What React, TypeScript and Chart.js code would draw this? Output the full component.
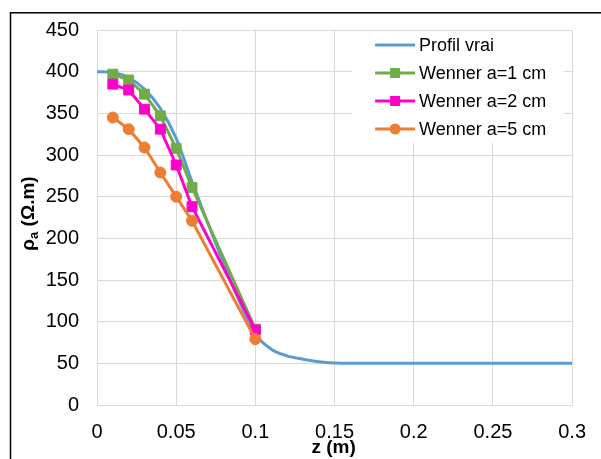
import React, { useEffect, useRef } from "react";
import { Chart, registerables } from "chart.js";

Chart.register(...registerables);

// ---- data ----
const profilZ = [0, 0.01, 0.02, 0.03, 0.04, 0.05, 0.06, 0.07, 0.08, 0.09, 0.1, 0.11, 0.12, 0.13, 0.14, 0.15, 0.16, 0.17, 0.18, 0.2, 0.22, 0.24, 0.26, 0.28, 0.3];
const profilRho = [400, 399, 393, 379, 356, 320, 268, 218, 170, 124, 85, 67, 59, 55, 52, 50.5, 50, 50, 50, 50, 50, 50, 50, 50, 50];

const wennerZ = [0.01, 0.02, 0.03, 0.04, 0.05, 0.06, 0.1];
const wenner1 = [397, 390, 373, 347, 308, 261, 91];
const wenner2 = [385, 378, 355, 331, 288, 238, 90];
const wenner5 = [345, 331, 309, 279, 250, 221, 79];

const seriesLabels = ["Profil vrai", "Wenner a=1 cm", "Wenner a=2 cm", "Wenner a=5 cm"];
const seriesColors = ["#5B9BD5", "#70AD47", "#FF00CC", "#ED7D31"];
const seriesMarkers: (string | null)[] = [null, "rect", "rect", "circle"];

const xTitle = "z (m)";
const yTitleMain = "ρ";
const yTitleSub = "a";
const yTitleRest = " (Ω.m)";

const xMin = 0, xMax = 0.3, xStep = 0.05;
const yMin = 0, yMax = 450, yStep = 50;

const FONT = "'Liberation Sans', Arial, sans-serif";

const toPts = (xs: number[], ys: number[]) => xs.map((x, i) => ({ x, y: ys[i] }));

function drawMarker(ctx: CanvasRenderingContext2D, style: string, x: number, y: number, color: string) {
  ctx.fillStyle = color;
  if (style === "rect") {
    ctx.fillRect(x - 5, y - 5, 10, 10);
  } else {
    ctx.beginPath();
    ctx.arc(x, y, 5.5, 0, Math.PI * 2);
    ctx.fill();
  }
}

const decorPlugin = {
  id: "decor",
  beforeDraw(chart: any) {
    const ctx = chart.ctx;
    ctx.save();
    ctx.fillStyle = "#ffffff";
    ctx.fillRect(0, 0, chart.width, chart.height);
    ctx.restore();
  },
  afterDraw(chart: any) {
    const ctx: CanvasRenderingContext2D = chart.ctx;
    const area = chart.chartArea;
    ctx.save();
    // outer frame
    ctx.strokeStyle = "#000000";
    ctx.lineWidth = 1.5;
    ctx.strokeRect(10.5, 12.8, chart.width + 100, chart.height + 100);

    // legend
    const boxRight = area.right - 8;
    const boxLeft = boxRight - 212;
    const boxTop = area.top + 1;
    ctx.fillStyle = "#ffffff";
    ctx.fillRect(boxLeft, boxTop, 212, 112);
    const lx = boxLeft + 23;
    ctx.font = `18px ${FONT}`;
    ctx.textBaseline = "middle";
    ctx.textAlign = "left";
    seriesLabels.forEach((lab, i) => {
      const y = boxTop + 14 + i * 28;
      ctx.strokeStyle = seriesColors[i];
      ctx.lineWidth = 3;
      ctx.beginPath();
      ctx.moveTo(lx, y);
      ctx.lineTo(lx + 40, y);
      ctx.stroke();
      const m = seriesMarkers[i];
      if (m) drawMarker(ctx, m, lx + 20, y, seriesColors[i]);
      ctx.fillStyle = "#000000";
      ctx.fillText(lab, lx + 44, y + 1);
    });

    // x title
    ctx.font = `bold 19px ${FONT}`;
    ctx.textAlign = "center";
    ctx.textBaseline = "alphabetic";
    ctx.fillStyle = "#000000";
    ctx.fillText(xTitle, (area.left + area.right) / 2 - 1, chart.height - 6);

    // y title (rotated, with subscript)
    const cy = (area.top + area.bottom) / 2 - 4;
    ctx.translate(34, cy);
    ctx.rotate(-Math.PI / 2);
    const bigFont = `bold 19px ${FONT}`;
    const smallFont = `bold 13px ${FONT}`;
    ctx.font = bigFont;
    const w1 = ctx.measureText(yTitleMain).width;
    const w3 = ctx.measureText(yTitleRest).width;
    ctx.font = smallFont;
    const w2 = ctx.measureText(yTitleSub).width;
    let x0 = -(w1 + w2 + w3) / 2;
    ctx.textAlign = "left";
    ctx.font = bigFont;
    ctx.fillText(yTitleMain, x0, 0);
    x0 += w1;
    ctx.font = smallFont;
    ctx.fillText(yTitleSub, x0, 4);
    x0 += w2;
    ctx.font = bigFont;
    ctx.fillText(yTitleRest, x0, 0);
    ctx.restore();
  },
};

export default function App() {
  const canvasRef = useRef<HTMLCanvasElement | null>(null);

  useEffect(() => {
    if (!canvasRef.current) return;
    const common = { borderWidth: 3, tension: 0, pointBorderWidth: 1 };
    const chart = new Chart(canvasRef.current, {
      type: "line",
      data: {
        datasets: [
          {
            label: seriesLabels[0],
            data: toPts(profilZ, profilRho),
            borderColor: seriesColors[0],
            backgroundColor: seriesColors[0],
            borderWidth: 3,
            pointRadius: 0,
            cubicInterpolationMode: "monotone",
            order: 3,
          },
          {
            ...common,
            label: seriesLabels[1],
            data: toPts(wennerZ, wenner1),
            borderColor: seriesColors[1],
            backgroundColor: seriesColors[1],
            pointBackgroundColor: seriesColors[1],
            pointBorderColor: seriesColors[1],
            pointStyle: "rect",
            pointRadius: 7,
            order: 2,
          },
          {
            ...common,
            label: seriesLabels[2],
            data: toPts(wennerZ, wenner2),
            borderColor: seriesColors[2],
            backgroundColor: seriesColors[2],
            pointBackgroundColor: seriesColors[2],
            pointBorderColor: seriesColors[2],
            pointStyle: "rect",
            pointRadius: 7,
            order: 1,
          },
          {
            ...common,
            label: seriesLabels[3],
            data: toPts(wennerZ, wenner5),
            borderColor: seriesColors[3],
            backgroundColor: seriesColors[3],
            pointBackgroundColor: seriesColors[3],
            pointBorderColor: seriesColors[3],
            pointStyle: "circle",
            pointRadius: 5.5,
            order: 0,
          },
        ],
      } as any,
      options: {
        animation: false,
        responsive: true,
        maintainAspectRatio: false,
        layout: { padding: { left: 0, top: 30, right: 27, bottom: 0 } },
        plugins: { legend: { display: false }, tooltip: { enabled: false } },
        scales: {
          x: {
            type: "linear",
            min: xMin,
            max: xMax,
            afterFit: (s: any) => { s.height = 54; },
            ticks: {
              stepSize: xStep,
              padding: 15,
              color: "#000000",
              font: { family: FONT, size: 20 },
              maxRotation: 0,
              callback: (v: any) => String(Number(Number(v).toFixed(2))),
            },
            grid: { color: "#d9d9d9", lineWidth: 1, drawTicks: false, tickLength: 0 },
            border: { color: "#d9d9d9", width: 1 },
          },
          y: {
            type: "linear",
            min: yMin,
            max: yMax,
            afterFit: (s: any) => { s.width = 97; },
            ticks: {
              stepSize: yStep,
              padding: 18,
              color: "#000000",
              font: { family: FONT, size: 20 },
            },
            grid: { color: "#d9d9d9", lineWidth: 1, drawTicks: false, tickLength: 0 },
            border: { color: "#d9d9d9", width: 1 },
          },
        },
      } as any,
      plugins: [decorPlugin],
    });
    return () => chart.destroy();
  }, []);

  return (
    <div style={{ position: "absolute", left: 0, top: 0, width: 601, height: 459, background: "#fff" }}>
      <canvas ref={canvasRef} />
    </div>
  );
}
